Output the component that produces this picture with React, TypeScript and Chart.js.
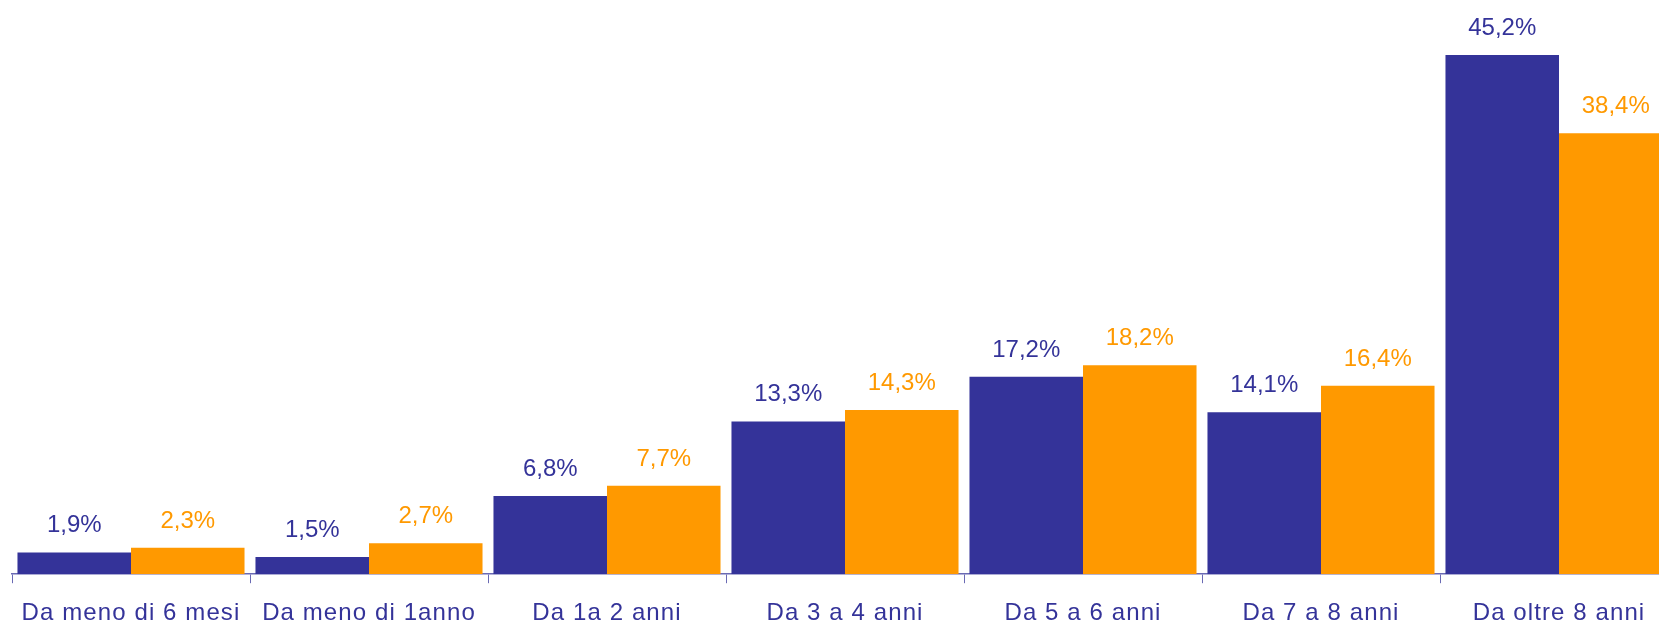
import React, { useEffect, useRef } from "react";
import { Chart, registerables } from "chart.js";

Chart.register(...registerables);

const categories = [
  "Da meno di 6 mesi",
  "Da meno di 1anno",
  "Da 1a 2 anni",
  "Da 3 a 4 anni",
  "Da 5 a 6 anni",
  "Da 7 a 8 anni",
  "Da oltre 8 anni",
];
const seriesA = [1.9, 1.5, 6.8, 13.3, 17.2, 14.1, 45.2];
const seriesB = [2.3, 2.7, 7.7, 14.3, 18.2, 16.4, 38.4];

const BLUE = "#343399";
const ORANGE = "#FF9900";
const AXIS = "#6a6ab4";
const FONT = "'Liberation Sans', Arial, sans-serif";

const valueLabels = {
  id: "valueLabels",
  afterDatasetsDraw(chart: any) {
    const ctx = chart.ctx;
    ctx.save();
    ctx.font = `24px ${FONT}`;
    ctx.textAlign = "center";
    ctx.textBaseline = "alphabetic";
    chart.data.datasets.forEach((ds: any, di: number) => {
      const meta = chart.getDatasetMeta(di);
      ctx.fillStyle = ds.backgroundColor;
      meta.data.forEach((el: any, i: number) => {
        const v = ds.data[i] as number;
        const txt = v.toFixed(1).replace(".", ",") + "%";
        ctx.fillText(txt, el.x, el.y - 20);
      });
    });
    ctx.restore();
  },
};

const spacing = {
  id: "spacing",
  beforeDraw(chart: any) {
    (chart.ctx as any).letterSpacing = "1.1px";
  },
  beforeDatasetsDraw(chart: any) {
    (chart.ctx as any).letterSpacing = "0px";
  },
};

export default function App() {
  const ref = useRef<HTMLCanvasElement | null>(null);
  useEffect(() => {
    if (!ref.current) return;
    const chart = new Chart(ref.current, {
      type: "bar",
      data: {
        labels: categories,
        datasets: [
          { data: seriesA, backgroundColor: BLUE, borderWidth: 0 },
          { data: seriesB, backgroundColor: ORANGE, borderWidth: 0 },
        ],
      },
      options: {
        responsive: false,
        animation: false,
        devicePixelRatio: 1,
        layout: { padding: { left: 12, right: 22, top: 0, bottom: 12 } },
        datasets: {
          bar: { categoryPercentage: 0.954, barPercentage: 1.0 },
        },
        plugins: {
          legend: { display: false },
          tooltip: { enabled: false },
          title: { display: false },
        },
        scales: {
          x: {
            grid: {
              display: true,
              offset: true,
              drawOnChartArea: false,
              drawTicks: true,
              tickLength: 9,
              color: AXIS,
              lineWidth: 1,
            },
            border: { display: true, color: AXIS, width: 1.5 },
            ticks: {
              color: BLUE,
              padding: 16,
              maxRotation: 0,
              autoSkip: false,
              font: { family: FONT, size: 24, lineHeight: 1.2 },
            },
          },
          y: {
            display: false,
            min: 0,
            max: 50,
          },
        },
      },
      plugins: [valueLabels, spacing],
    });
    return () => chart.destroy();
  }, []);
  return (
    <div
      style={{
        position: "absolute",
        left: 0,
        top: 0,
        width: 1659,
        height: 624,
        overflow: "hidden",
        background: "#fff",
      }}
    >
      <canvas ref={ref} width={1700} height={656} style={{ display: "block" }} />
    </div>
  );
}
